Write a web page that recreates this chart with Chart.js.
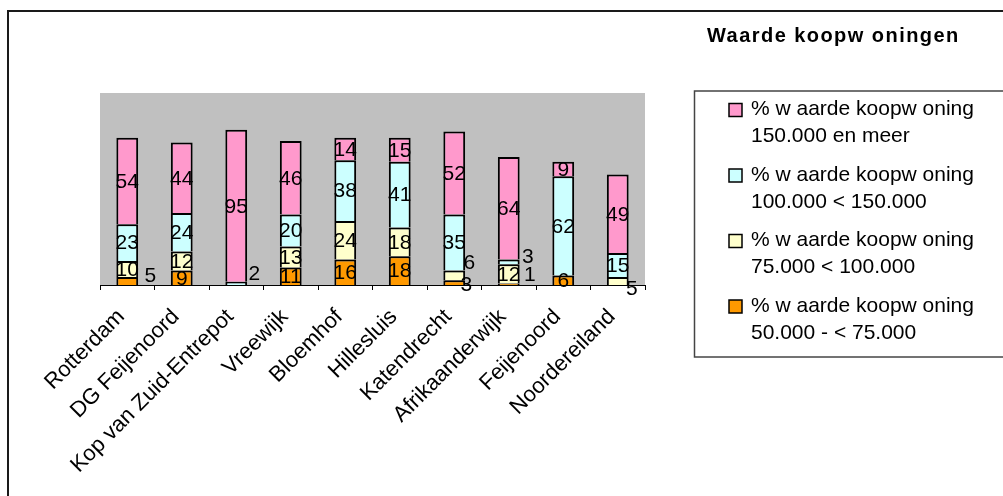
<!DOCTYPE html>
<html>
<head>
<meta charset="utf-8">
<script src="https://cdn.jsdelivr.net/npm/chart.js@4.4.1/dist/chart.umd.min.js"></script>
<style>
  html, body { margin: 0; padding: 0; background: #ffffff; overflow: hidden; }
  #wrap { width: 1003px; height: 496px; position: relative; }
</style>
</head>
<body>
<div id="wrap"><canvas id="c" width="1003" height="496"></canvas></div>
<script>
// Wijken (categories)
const categories = ['Rotterdam', 'DG Feijenoord', 'Kop van Zuid-Entrepot', 'Vreewijk', 'Bloemhof',
  'Hillesluis', 'Katendrecht', 'Afrikaanderwijk', 'Feijenoord', 'Noordereiland'];

// Percentages per value class, stacked from bottom to top
const waarde50tot75   = [5, 9, null, 11, 16, 18, 3, 1, 6, null];
const waarde75tot100  = [10, 12, null, 13, 24, 18, 6, 12, null, 5];
const waarde100tot150 = [23, 24, 2, 20, 38, 41, 35, 3, 62, 15];
const waarde150plus   = [54, 44, 95, 46, 14, 15, 52, 64, 9, 49];

const seriesLabels = [
  ['% w aarde koopw oning', '50.000 - < 75.000'],
  ['% w aarde koopw oning', '75.000 < 100.000'],
  ['% w aarde koopw oning', '100.000 < 150.000'],
  ['% w aarde koopw oning', '150.000 en meer']
];
const chartTitle = 'Waarde koopw oningen';
const yMax = 120;

const FONT = '"Liberation Sans", Arial, Helvetica, sans-serif';
const colors = ['#FF9900', '#FFFFCC', '#CCFFFF', '#FF99CC'];

// Small segments get their label beside the bar: [category, series, dx, dy]
const labelNudges = [
  [0, 0, 23, -6],
  [2, 2, 18, -10],
  [6, 1, 15, -13],
  [6, 0, 12, 2],
  [7, 2, 19, -6],
  [7, 0, 21, -10],
  [9, 1, 14, 7]
];

const plotBackground = {
  id: 'plotBackground',
  beforeDraw(chart) {
    const { ctx, chartArea: a } = chart;
    ctx.save();
    ctx.fillStyle = '#C0C0C0';
    ctx.fillRect(a.left, a.top, a.right - a.left, a.bottom - a.top);
    ctx.restore();
  }
};

const segmentLabels = {
  id: 'segmentLabels',
  afterDatasetsDraw(chart) {
    const ctx = chart.ctx;
    ctx.save();
    ctx.font = '21px ' + FONT;
    ctx.fillStyle = '#000';
    ctx.textAlign = 'center';
    ctx.textBaseline = 'middle';
    chart.data.datasets.forEach((ds, di) => {
      const meta = chart.getDatasetMeta(di);
      meta.data.forEach((el, i) => {
        const v = ds.data[i];
        if (v === null || v === undefined) return;
        let x = el.x;
        let y = (el.y + el.base) / 2;
        const n = labelNudges.find(m => m[0] === i && m[1] === di);
        if (n) { x += n[2]; y += n[3]; }
        ctx.fillText(String(v), x, y + 1);
      });
    });
    ctx.restore();
  }
};

const frameAndLegend = {
  id: 'frameAndLegend',
  afterDraw(chart) {
    const ctx = chart.ctx;
    ctx.save();
    // outer frame
    ctx.strokeStyle = '#1a1a1a';
    ctx.lineWidth = 2;
    ctx.strokeRect(8, 11, 1200, 700);

    // title
    ctx.fillStyle = '#000';
    ctx.font = 'bold 20px ' + FONT;
    ctx.textAlign = 'left';
    ctx.textBaseline = 'alphabetic';
    if ('letterSpacing' in ctx) ctx.letterSpacing = '1.45px';
    ctx.fillText(chartTitle, 707, 42);
    if ('letterSpacing' in ctx) ctx.letterSpacing = '0px';

    // legend box
    ctx.strokeStyle = '#444';
    ctx.lineWidth = 1.5;
    ctx.strokeRect(694.5, 91, 400, 266);

    ctx.font = '21px ' + FONT;
    for (let k = 0; k < 4; k++) {
      const si = 3 - k;
      const base = 115 + k * 65.5;
      ctx.fillStyle = colors[si];
      ctx.fillRect(729, base - 11.5, 13, 13);
      ctx.strokeStyle = '#000';
      ctx.lineWidth = 1.5;
      ctx.strokeRect(729, base - 11.5, 13, 13);
      ctx.fillStyle = '#000';
      ctx.fillText(seriesLabels[si][0], 751, base);
      ctx.fillText(seriesLabels[si][1], 751, base + 27);
    }
    ctx.restore();
  }
};

const seriesData = [waarde50tot75, waarde75tot100, waarde100tot150, waarde150plus];

new Chart(document.getElementById('c'), {
  type: 'bar',
  data: {
    labels: categories,
    datasets: seriesData.map((d, i) => ({
      label: seriesLabels[i].join(' '),
      data: d,
      backgroundColor: colors[i],
      borderColor: '#000',
      borderWidth: { top: 2, left: 2, right: 2, bottom: 0 },
      borderSkipped: false,
      barPercentage: 0.4,
      categoryPercentage: 1
    }))
  },
  options: {
    responsive: false,
    animation: false,
    devicePixelRatio: 1,
    layout: { padding: { left: 100, right: 358, top: 93, bottom: 0 } },
    plugins: { legend: { display: false }, title: { display: false }, tooltip: { enabled: false } },
    scales: {
      x: {
        stacked: true,
        afterFit(s) { s.height = 211; },
        grid: { display: true, drawOnChartArea: false, offset: true, tickLength: 5, color: '#000', lineWidth: 1 },
        border: { display: true, color: '#000', width: 1 },
        ticks: {
          color: '#000',
          font: { family: FONT, size: 22 },
          minRotation: 45,
          maxRotation: 45,
          autoSkip: false,
          padding: 14,
          labelOffset: -6
        }
      },
      y: {
        stacked: true,
        display: false,
        min: 0,
        max: yMax
      }
    }
  },
  plugins: [plotBackground, segmentLabels, frameAndLegend]
});
</script>
</body>
</html>
